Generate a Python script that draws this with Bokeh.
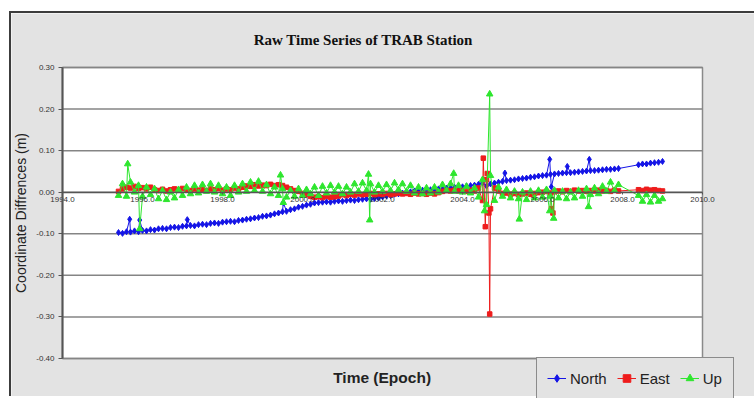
import numpy as np
from bokeh.plotting import figure
from bokeh.models import (Range1d, FixedTicker, NumeralTickFormatter, Legend, LegendItem, Label)
from bokeh.embed import file_html
from bokeh.resources import INLINE

# ---------------- data ----------------
epoch = [
    1995.4, 1995.5, 1995.6, 1995.7, 1995.8, 1995.9, 1996.0, 1996.1, 1996.2, 1996.3,
    1996.4, 1996.5, 1996.6, 1996.7, 1996.8, 1996.9, 1997.0, 1997.1, 1997.2, 1997.3,
    1997.4, 1997.5, 1997.6, 1997.7, 1997.8, 1997.9, 1998.0, 1998.1, 1998.2, 1998.3,
    1998.4, 1998.5, 1998.6, 1998.7, 1998.8, 1998.9, 1999.0, 1999.1, 1999.2, 1999.3,
    1999.4, 1999.5, 1999.6, 1999.7, 1999.8, 1999.9, 2000.0, 2000.1, 2000.2, 2000.3,
    2000.4, 2000.5, 2000.6, 2000.7, 2000.8, 2000.9, 2001.0, 2001.1, 2001.2, 2001.3,
    2001.4, 2001.5, 2001.6, 2001.7, 2001.8, 2001.9, 2002.0, 2002.1, 2002.2, 2002.3,
    2002.4, 2002.5, 2002.6, 2002.7, 2002.8, 2002.9, 2003.0, 2003.1, 2003.2, 2003.3,
    2003.4, 2003.5, 2003.6, 2003.7, 2003.8, 2003.9, 2004.0, 2004.1, 2004.2, 2004.3,
    2004.4, 2004.5, 2004.6, 2004.7, 2004.8, 2004.9, 2005.0, 2005.1, 2005.2, 2005.3,
    2005.4, 2005.5, 2005.6, 2005.7, 2005.8, 2005.9, 2006.0, 2006.1, 2006.2, 2006.3,
    2006.4, 2006.5, 2006.6, 2006.7, 2006.8, 2006.9, 2007.0, 2007.1, 2007.2, 2007.3,
    2007.4, 2007.5, 2007.6, 2007.7, 2007.8, 2007.9,
    2008.4, 2008.5, 2008.6, 2008.7, 2008.8, 2008.9, 2009.0,
]

north = [
    -0.097, -0.099, -0.095, -0.096, -0.093, -0.095, -0.092, -0.093, -0.090, -0.091,
    -0.088, -0.087, -0.088, -0.085, -0.084, -0.085, -0.082, -0.081, -0.080, -0.081,
    -0.078, -0.077, -0.078, -0.075, -0.074, -0.075, -0.072, -0.071, -0.070, -0.071,
    -0.068, -0.067, -0.065, -0.064, -0.062, -0.061, -0.058, -0.057, -0.055, -0.052,
    -0.050, -0.047, -0.046, -0.042, -0.040, -0.036, -0.034, -0.031, -0.029, -0.026,
    -0.025, -0.024, -0.023, -0.024, -0.022, -0.021, -0.022, -0.020, -0.019, -0.020,
    -0.018, -0.017, -0.016, -0.017, -0.015, -0.014, -0.011, -0.009, -0.008, -0.005,
    -0.004, -0.002, 0.000, 0.001, 0.003, 0.004, 0.005, 0.006, 0.006, 0.008,
    0.008, 0.009, 0.010, 0.010, 0.012, 0.012, 0.013, 0.015, 0.016, 0.017,
    0.019, 0.022, 0.015, 0.020, 0.022, 0.024, 0.026, 0.028, 0.029, 0.030,
    0.032, 0.033, 0.034, 0.036, 0.037, 0.039, 0.040, 0.041, 0.043, 0.044,
    0.045, 0.046, 0.047, 0.047, 0.048, 0.049, 0.050, 0.051, 0.052, 0.052,
    0.053, 0.054, 0.055, 0.055, 0.056, 0.057,
    0.066, 0.068, 0.068, 0.070, 0.071, 0.072, 0.074,
]

east = [
    0.002, 0.008, 0.012, 0.010, 0.014, 0.009, 0.011, 0.008, 0.012, 0.006,
    0.004, 0.007, 0.003, 0.006, 0.008, 0.005, 0.009, 0.006, 0.004, 0.008,
    0.005, 0.007, 0.004, 0.008, 0.006, 0.009, 0.005, 0.008, 0.006, 0.010,
    0.008, 0.012, 0.015, 0.014, 0.018, 0.015, 0.017, 0.016, 0.019, 0.016,
    0.018, 0.016, 0.012, 0.008, 0.004, 0.002, -0.003, -0.006, -0.010, -0.012,
    -0.011, -0.013, -0.010, -0.012, -0.011, -0.009, -0.006, -0.008, -0.005, -0.007,
    -0.004, -0.006, -0.005, -0.003, -0.006, -0.004, -0.005, -0.003, -0.006, -0.004,
    -0.002, -0.004, -0.003, -0.005, -0.002, -0.004, -0.003, -0.005, -0.002, -0.004,
    -0.001, 0.002, 0.004, 0.003, 0.005, 0.003, 0.004, 0.002, 0.005, 0.003,
    0.010, -0.020, 0.030, -0.040, 0.010, 0.003, -0.003, -0.002, -0.005, -0.003,
    -0.006, -0.004, -0.002, -0.005, -0.003, -0.001, 0.000, 0.002, -0.002, 0.001,
    0.003, 0.001, 0.004, 0.002, 0.005, 0.003, 0.004, 0.002, 0.004, 0.003,
    0.005, 0.003, 0.004, 0.002, 0.005, 0.003,
    0.006, 0.004, 0.007, 0.005, 0.006, 0.004, 0.003,
]

up = [
    -0.008, 0.020, -0.010, 0.024, 0.000, 0.016, -0.010, 0.012, -0.006, 0.008,
    -0.016, 0.004, -0.018, 0.000, -0.014, 0.006, -0.008, 0.012, -0.004, 0.016,
    -0.002, 0.018, 0.002, 0.020, 0.000, 0.016, -0.004, 0.012, -0.008, 0.016,
    0.000, 0.020, 0.002, 0.024, 0.004, 0.026, 0.002, 0.018, -0.004, 0.012,
    -0.008, 0.008, -0.012, 0.004, -0.010, 0.008, -0.008, 0.006, -0.004, 0.012,
    -0.008, 0.014, -0.002, 0.016, 0.000, 0.014, -0.004, 0.012, 0.000, 0.020,
    0.002, 0.022, 0.004, 0.020, 0.000, 0.016, 0.002, 0.018, 0.004, 0.022,
    0.006, 0.020, 0.002, 0.016, -0.002, 0.012, -0.004, 0.010, -0.002, 0.012,
    0.000, 0.018, 0.004, 0.020, 0.002, 0.016, 0.000, 0.014, -0.002, 0.010,
    -0.012, 0.030, -0.030, 0.040, -0.020, 0.012, -0.010, 0.006, -0.014, 0.002,
    -0.016, 0.000, -0.018, 0.002, -0.014, 0.004, -0.012, 0.006, -0.010, 0.004,
    -0.014, 0.002, -0.016, 0.000, -0.014, 0.004, -0.010, 0.008, -0.006, 0.010,
    -0.004, 0.014, 0.002, 0.024, 0.004, 0.018,
    -0.008, -0.022, -0.006, -0.024, -0.008, -0.022, -0.016,
]

# isolated outliers (spikes) of each series
north_spike_t = [1995.68, 1995.93, 1997.12, 1999.52, 2005.06, 2006.18, 2006.22, 2006.62, 2007.17]
north_spike_v = [-0.065, -0.067, -0.066, -0.025, 0.046, 0.079, 0.013, 0.062, 0.079]

east_spike_t = [2004.52, 2004.57, 2004.62, 2004.66, 2004.68, 2006.22, 2006.26]
east_spike_v = [0.082, -0.083, 0.045, -0.050, -0.293, -0.040, -0.050]

up_spike_t = [1995.63, 1995.93, 1999.45, 1999.52, 2001.65, 2001.68, 2003.78,
              2004.55, 2004.68, 2005.42, 2006.18, 2006.28, 2007.15]
up_spike_v = [0.068, -0.088, 0.041, -0.025, 0.043, -0.067, 0.045,
              -0.045, 0.236, -0.065, -0.045, -0.063, -0.035]

x_ticks = [1994, 1996, 1998, 2000, 2002, 2004, 2006, 2008, 2010]
y_ticks = [-0.40, -0.30, -0.20, -0.10, 0.00, 0.10, 0.20, 0.30]

series_names = ["North", "East", "Up"]
series_colors = ["#1414e6", "#ee1c1c", "#2ee62e"]
series_markers = ["diamond", "square", "triangle"]
series_sizes = [6, 4.5, 6.5]

title_text = "Raw Time Series of TRAB Station"
x_title = "Time (Epoch)"
y_title = "Coordinate Diffrences (m)"


def merged(t, v, st, sv):
    tt = np.array(list(t) + list(st), dtype=float)
    vv = np.array(list(v) + list(sv), dtype=float)
    order = np.argsort(tt, kind="stable")
    return tt[order], vv[order]


assert len(epoch) == len(north) == len(east) == len(up)

# ---------------- layout constants ----------------
W, H = 745, 385                 # canvas size (inside the css border)
PX_X = 640 / (x_ticks[-1] - x_ticks[0])    # pixels per year
PX_Y = 291 / (y_ticks[-1] - y_ticks[0])    # pixels per metre
LEFT_PAD, TOP_PAD, BOTTOM_PAD = 51, 54, 40  # plot area offsets inside canvas

x0 = x_ticks[0] - LEFT_PAD / PX_X
x1 = x0 + W / PX_X
y1 = y_ticks[-1] + TOP_PAD / PX_Y
y0 = y_ticks[0] - BOTTOM_PAD / PX_Y

p = figure(
    width=W, height=H,
    x_range=Range1d(x0, x1), y_range=Range1d(y0, y1),
    output_backend="svg", toolbar_location=None,
    min_border=0,
)
p.margin = (11, 0, 0, 9)
p.styles = {"border-left": "2px solid #3c3c3c", "border-top": "2px solid #3c3c3c"}

p.background_fill_color = "#e3e3e3"
p.border_fill_color = "#e3e3e3"
p.outline_line_color = None
p.xgrid.visible = False
p.ygrid.visible = False

# white plot area with its gray border and horizontal grid lines
p.quad(left=x_ticks[0], right=x_ticks[-1], bottom=y_ticks[0], top=y_ticks[-1],
       fill_color="white", line_color="#8a8a8a", line_width=1.5)
p.segment(x0=[x_ticks[0]] * len(y_ticks), x1=[x_ticks[-1]] * len(y_ticks),
          y0=y_ticks, y1=y_ticks, line_color="#858585", line_width=1.5)

yax = p.yaxis[0]
yax.fixed_location = x_ticks[0]
yax.bounds = (y_ticks[0], y_ticks[-1])
yax.ticker = FixedTicker(ticks=y_ticks)
yax.formatter = NumeralTickFormatter(format="0.00")
yax.major_label_text_font = "Liberation Sans"
yax.major_label_text_font_size = "8px"
yax.major_label_text_color = "#333333"
yax.axis_line_color = "#555555"
yax.axis_line_width = 2
yax.major_tick_line_color = "#555555"
yax.major_tick_in = 0
yax.major_tick_out = 4
yax.minor_tick_line_color = None
yax.major_label_standoff = 4
yax.axis_label = y_title
yax.axis_label_text_font = "Liberation Sans"
yax.axis_label_text_font_size = "14px"
yax.axis_label_text_font_style = "normal"
yax.axis_label_text_color = "#222222"
yax.axis_label_standoff = 4

xax = p.xaxis[0]
xax.fixed_location = 0
xax.bounds = (x_ticks[0], x_ticks[-1])
xax.ticker = FixedTicker(ticks=x_ticks)
xax.formatter = NumeralTickFormatter(format="0.0")
xax.major_label_text_font = "Liberation Sans"
xax.major_label_text_font_size = "8px"
xax.major_label_text_color = "#333333"
xax.axis_line_color = "#555555"
xax.axis_line_width = 1.5
xax.major_tick_line_color = "#555555"
xax.major_tick_in = 0
xax.major_tick_out = 2
xax.minor_tick_line_color = None
xax.major_label_standoff = 3

items = []
for name, col, mk, sz, (tt, vv) in zip(
    series_names, series_colors, series_markers, series_sizes,
    [merged(epoch, north, north_spike_t, north_spike_v),
     merged(epoch, east, east_spike_t, east_spike_v),
     merged(epoch, up, up_spike_t, up_spike_v)],
):
    ln = p.line(tt, vv, line_color=col, line_width=1)
    sc = p.scatter(tt, vv, marker=mk, size=sz, fill_color=col, line_color=col)
    items.append(LegendItem(label=name, renderers=[ln, sc]))

legend = Legend(
    items=items, orientation="horizontal", location=(474 + LEFT_PAD, -1),
    glyph_width=19, glyph_height=20, label_height=20, label_standoff=4,
    spacing=10, padding=10,
    label_text_font="Liberation Sans", label_text_font_size="15px",
    label_text_color="#222222",
    background_fill_color="#e3e3e3", background_fill_alpha=1.0,
    border_line_color="#333333", border_line_width=1.5,
)
p.add_layout(legend, "center")

p.add_layout(Label(x=2001.52, y=0.367, text=title_text, text_align="center",
                   text_baseline="middle", text_font="Liberation Serif",
                   text_font_style="bold", text_font_size="15px", text_color="#111111"))
p.add_layout(Label(x=2001.99, y=-0.446, text=x_title, text_align="center",
                   text_baseline="middle", text_font="Liberation Sans",
                   text_font_style="bold", text_font_size="15.5px", text_color="#222222"))

open("out.html", "w").write(file_html(p, INLINE))
